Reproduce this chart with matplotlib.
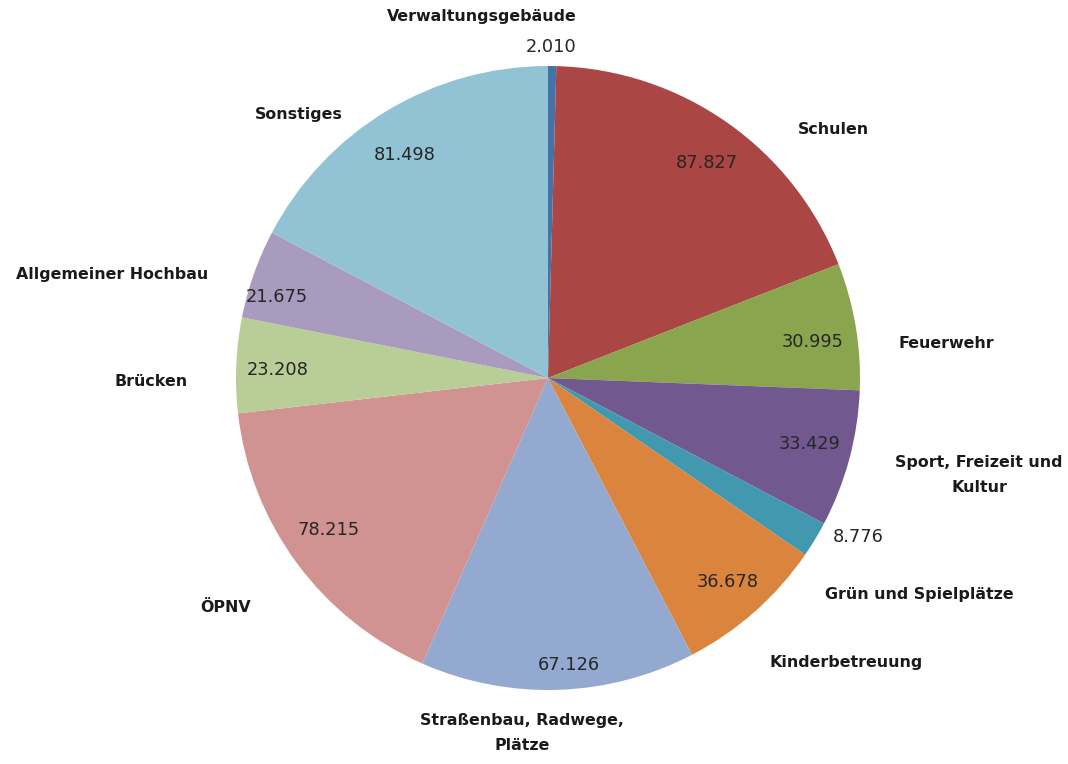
import matplotlib
matplotlib.use("Agg")
import matplotlib.pyplot as plt

categories = ["Verwaltungsgebäude", "Schulen", "Feuerwehr", "Sport, Freizeit und\nKultur",
              "Grün und Spielplätze", "Kinderbetreuung", "Straßenbau, Radwege,\nPlätze",
              "ÖPNV", "Brücken", "Allgemeiner Hochbau", "Sonstiges"]
values = [2.010, 87.827, 30.995, 33.429, 8.776, 36.678, 67.126, 78.215, 23.208, 21.675, 81.498]
value_labels = ["2.010", "87.827", "30.995", "33.429", "8.776", "36.678", "67.126",
                "78.215", "23.208", "21.675", "81.498"]
colors = ["#4572A7", "#AA4643", "#89A54E", "#71588F", "#4198AF", "#DB843D",
          "#93A9CF", "#D19392", "#B9CD96", "#A99BBD", "#91C3D5"]

# label layout (offsets from pie centre, pixels)
R = 312.0
cat_offsets = [(-66, 361), (285, 249), (398, 35), (431, -97), (371, -216), (298, -284),
               (-26, -355), (-322, -229), (-397, -3), (-436, 103), (-249, 264)]
val_offsets = [(3, 331), (159, 215), (265, 36), (262, -66), (310, -159), (180, -204),
               (21, -287), (-219, -152), (-270, 8), (-271, 81), (-143, 223)]

W, H = 1068, 764
fig = plt.figure(figsize=(W / 100, H / 100), dpi=100)
ax = fig.add_axes([0, 0, 1, 1])
cx, cy = 548, 386
ax.pie(values, colors=colors, startangle=90, counterclock=False,
       center=(cx, cy), radius=R, wedgeprops=dict(linewidth=0))
ax.set_xlim(0, W)
ax.set_ylim(0, H)
ax.set_aspect("equal")
ax.axis("off")

for name, (dx, dy) in zip(categories, cat_offsets):
    ax.text(cx + dx, cy + dy, name, ha="center", va="center", fontsize=11.4,
            fontweight="bold", family="DejaVu Sans", color="#1a1a1a", linespacing=1.75)
for lab, (dx, dy) in zip(value_labels, val_offsets):
    ax.text(cx + dx, cy + dy, lab, ha="center", va="center", fontsize=12.8,
            family="DejaVu Sans", color="#262626")

fig.savefig("out.png", dpi=100)
